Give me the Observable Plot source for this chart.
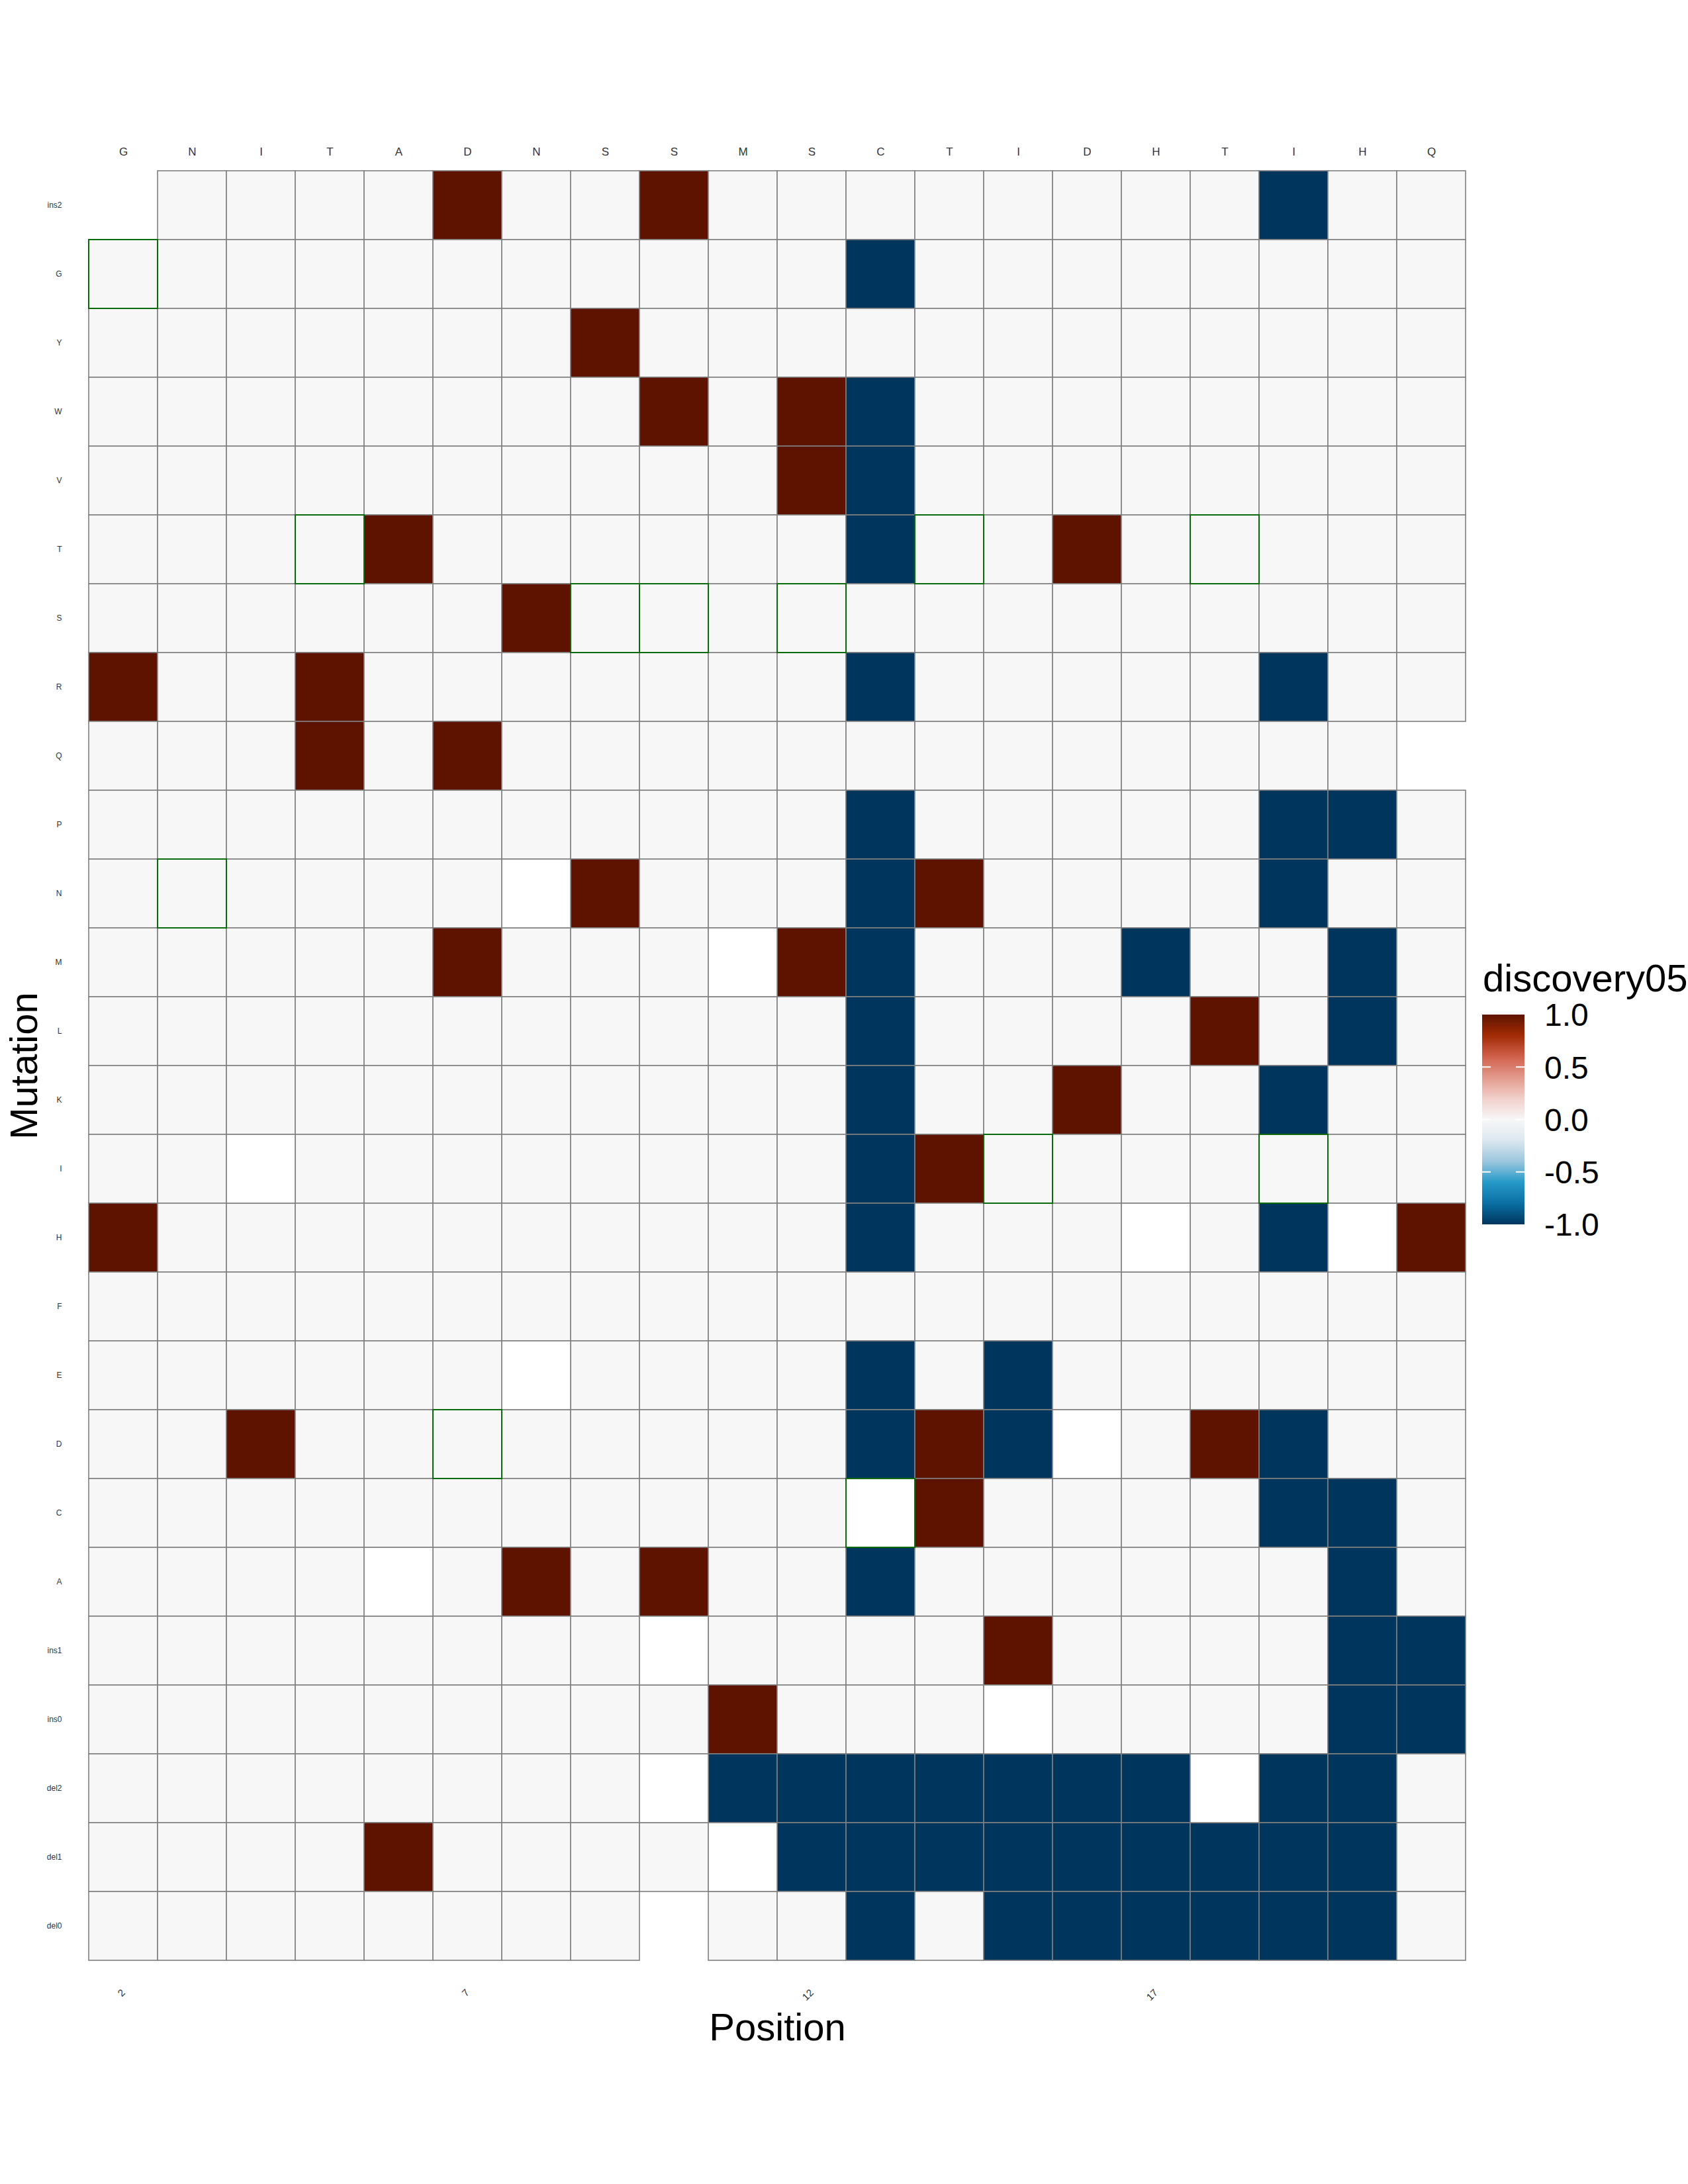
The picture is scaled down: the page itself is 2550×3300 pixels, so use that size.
<!DOCTYPE html>
<html>
<head>
<meta charset="utf-8">
<script src="https://cdn.jsdelivr.net/npm/d3@7"></script>
<script src="https://cdn.jsdelivr.net/npm/@observablehq/plot@0.6"></script>
<style>
  html, body { margin: 0; padding: 0; background: #fff; }
  #wrap { position: relative; width: 2550px; height: 3300px; font-family: "Liberation Sans", Arial, Helvetica, sans-serif; }
  #legend { position: absolute; left: 0; top: 0; pointer-events: none; }
</style>
</head>
<body>
<div id="wrap"></div>
<script>
// ---- data ----
const positions = [2,3,4,5,6,7,8,9,10,11,12,13,14,15,16,17,18,19,20,21];
const wildtype  = ["G","N","I","T","A","D","N","S","S","M","S","C","T","I","D","H","T","I","H","Q"];
const mutations = ["ins2","G","Y","W","V","T","S","R","Q","P","N","M","L","K","I","H","F","E","D","C","A","ins1","ins0","del2","del1","del0"];
const xTicks = [2, 7, 12, 17];
const legendTicks = [1, 0.5, 0, -0.5, -1];
const legendTickLabels = ["1.0", "0.5", "0.0", "-0.5", "-1.0"];

const NA = NaN;   // drawn as white tile
const _ = null;   // no tile

// discovery05 value per mutation row (top to bottom), one entry per position
const discovery05 = [
  /* ins2 */ [_,0,0,0,0,1,0,0,1,0,0,0,0,0,0,0,0,-1,0,0],
  /* G    */ [0,0,0,0,0,0,0,0,0,0,0,-1,0,0,0,0,0,0,0,0],
  /* Y    */ [0,0,0,0,0,0,0,1,0,0,0,0,0,0,0,0,0,0,0,0],
  /* W    */ [0,0,0,0,0,0,0,0,1,0,1,-1,0,0,0,0,0,0,0,0],
  /* V    */ [0,0,0,0,0,0,0,0,0,0,1,-1,0,0,0,0,0,0,0,0],
  /* T    */ [0,0,0,0,1,0,0,0,0,0,0,-1,0,0,1,0,0,0,0,0],
  /* S    */ [0,0,0,0,0,0,1,0,0,0,0,0,0,0,0,0,0,0,0,0],
  /* R    */ [1,0,0,1,0,0,0,0,0,0,0,-1,0,0,0,0,0,-1,0,0],
  /* Q    */ [0,0,0,1,0,1,0,0,0,0,0,0,0,0,0,0,0,0,0,_],
  /* P    */ [0,0,0,0,0,0,0,0,0,0,0,-1,0,0,0,0,0,-1,-1,0],
  /* N    */ [0,0,0,0,0,0,NA,1,0,0,0,-1,1,0,0,0,0,-1,0,0],
  /* M    */ [0,0,0,0,0,1,0,0,0,NA,1,-1,0,0,0,-1,0,0,-1,0],
  /* L    */ [0,0,0,0,0,0,0,0,0,0,0,-1,0,0,0,0,1,0,-1,0],
  /* K    */ [0,0,0,0,0,0,0,0,0,0,0,-1,0,0,1,0,0,-1,0,0],
  /* I    */ [0,0,NA,0,0,0,0,0,0,0,0,-1,1,0,0,0,0,0,0,0],
  /* H    */ [1,0,0,0,0,0,0,0,0,0,0,-1,0,0,0,NA,0,-1,NA,1],
  /* F    */ [0,0,0,0,0,0,0,0,0,0,0,0,0,0,0,0,0,0,0,0],
  /* E    */ [0,0,0,0,0,0,NA,0,0,0,0,-1,0,-1,0,0,0,0,0,0],
  /* D    */ [0,0,1,0,0,0,0,0,0,0,0,-1,1,-1,NA,0,1,-1,0,0],
  /* C    */ [0,0,0,0,0,0,0,0,0,0,0,NA,1,0,0,0,0,-1,-1,0],
  /* A    */ [0,0,0,0,NA,0,1,0,1,0,0,-1,0,0,0,0,0,0,-1,0],
  /* ins1 */ [0,0,0,0,0,0,0,0,NA,0,0,0,0,1,0,0,0,0,-1,-1],
  /* ins0 */ [0,0,0,0,0,0,0,0,0,1,0,0,0,NA,0,0,0,0,-1,-1],
  /* del2 */ [0,0,0,0,0,0,0,0,NA,-1,-1,-1,-1,-1,-1,-1,NA,-1,-1,0],
  /* del1 */ [0,0,0,0,1,0,0,0,0,NA,-1,-1,-1,-1,-1,-1,-1,-1,-1,0],
  /* del0 */ [0,0,0,0,0,0,0,0,_,0,0,-1,0,-1,-1,-1,-1,-1,-1,0]
];

// wild-type cells outlined in green: [position, mutation]
const wtOutlined = [[2,"G"],[3,"N"],[5,"T"],[7,"D"],[9,"S"],[10,"S"],[12,"S"],[13,"C"],[14,"T"],[15,"I"],[18,"T"],[19,"I"]];

// colour ramp (legend) stops
const colorDomain = [-1, -0.8, -0.6, -0.4, -0.2, 0, 0.2, 0.4, 0.6, 0.8, 1];
const colorRange  = ["#00365E", "#0A6FA3", "#2599C7", "#9BC6DE", "#DCE7F0", "#F7F7F7", "#F1CFCA", "#E39A8D", "#D0604B", "#A22B05", "#5E1300"];

// ---- build table ----
const cells = [];
mutations.forEach((m, i) => discovery05[i].forEach((v, j) => {
  if (v === null) return;
  cells.push({position: positions[j], mutation: m, value: v});
}));
const valued = cells.filter(d => !Number.isNaN(d.value));
const blank  = cells.filter(d => Number.isNaN(d.value));

const font = "Liberation Sans, Arial, Helvetica, sans-serif";
const W = 2550, H = 3300;
const mL = 131, mR = 333, mT = 258, mB = 338;

const plot = Plot.plot({
  width: W, height: H,
  marginLeft: mL, marginRight: mR, marginTop: mT, marginBottom: mB,
  style: {fontFamily: font, background: "white", color: "#333"},
  x: {type: "band", domain: positions, padding: 0, axis: null},
  y: {type: "band", domain: mutations, padding: 0, axis: null},
  color: {type: "linear", domain: colorDomain, range: colorRange, clamp: true},
  marks: [
    Plot.cell(valued, {x: "position", y: "mutation", fill: "value", stroke: "#7f7f7f", strokeWidth: 1.6, inset: 0}),
    Plot.cell(blank, {x: "position", y: "mutation", fill: "white", stroke: "#7f7f7f", strokeWidth: 1.6, inset: 0}),
    Plot.cell(wtOutlined, {x: d => d[0], y: d => d[1], fill: "none", stroke: "#0b6b0b", strokeWidth: 2, inset: 0}),
    Plot.axisX({anchor: "top", tickFormat: d => wildtype[positions.indexOf(d)], tickSize: 0, tickPadding: 24, fontSize: 17, label: null}),
    Plot.axisX(xTicks, {anchor: "bottom", tickSize: 0, tickPadding: 46, tickRotate: -45, fontSize: 15, label: null}),
    Plot.axisY({anchor: "left", tickSize: 0, tickPadding: 38, fontSize: 12, label: null}),
    Plot.text(["Position"], {frameAnchor: "bottom", lineAnchor: "middle", textAnchor: "middle", dy: 102, fontSize: 58, fill: "black", fontFamily: font}),
    Plot.text(["Mutation"], {frameAnchor: "left", lineAnchor: "middle", textAnchor: "middle", dx: -94, rotate: -90, fontSize: 58, fill: "black", fontFamily: font})
  ]
});

const wrap = document.getElementById("wrap");
wrap.appendChild(plot);

// ---- legend (colour bar to the right of the panel) ----
const sc = Plot.scale({color: plot.scale("color")});
const svg = d3.select(wrap).append("svg").attr("id", "legend").attr("width", W).attr("height", H);
const bx = 2239, by = 1533, bw = 64, bh = 317;
const grad = svg.append("defs").append("linearGradient").attr("id", "lg").attr("x1", 0).attr("y1", 0).attr("x2", 0).attr("y2", 1);
d3.range(0, 101).forEach(t => {
  const v = 1 - 2 * t / 100;
  grad.append("stop").attr("offset", t + "%").attr("stop-color", sc.apply(v));
});
svg.append("text").attr("x", 2240).attr("y", 1498).attr("font-size", 58).attr("font-family", font).attr("fill", "black").text("discovery05");
svg.append("rect").attr("x", bx).attr("y", by).attr("width", bw).attr("height", bh).attr("fill", "url(#lg)");
const yOf = v => by + (1 - v) / 2 * bh;
legendTicks.forEach((v, i) => {
  const y = yOf(v);
  if (v !== 1 && v !== -1) {
    svg.append("line").attr("x1", bx).attr("x2", bx + 13).attr("y1", y).attr("y2", y).attr("stroke", "white").attr("stroke-width", 2);
    svg.append("line").attr("x1", bx + bw - 13).attr("x2", bx + bw).attr("y1", y).attr("y2", y).attr("stroke", "white").attr("stroke-width", 2);
  }
  svg.append("text").attr("x", 2333).attr("y", y).attr("dy", "0.36em").attr("font-size", 48).attr("font-family", font).attr("fill", "black").text(legendTickLabels[i]);
});
</script>
</body>
</html>
